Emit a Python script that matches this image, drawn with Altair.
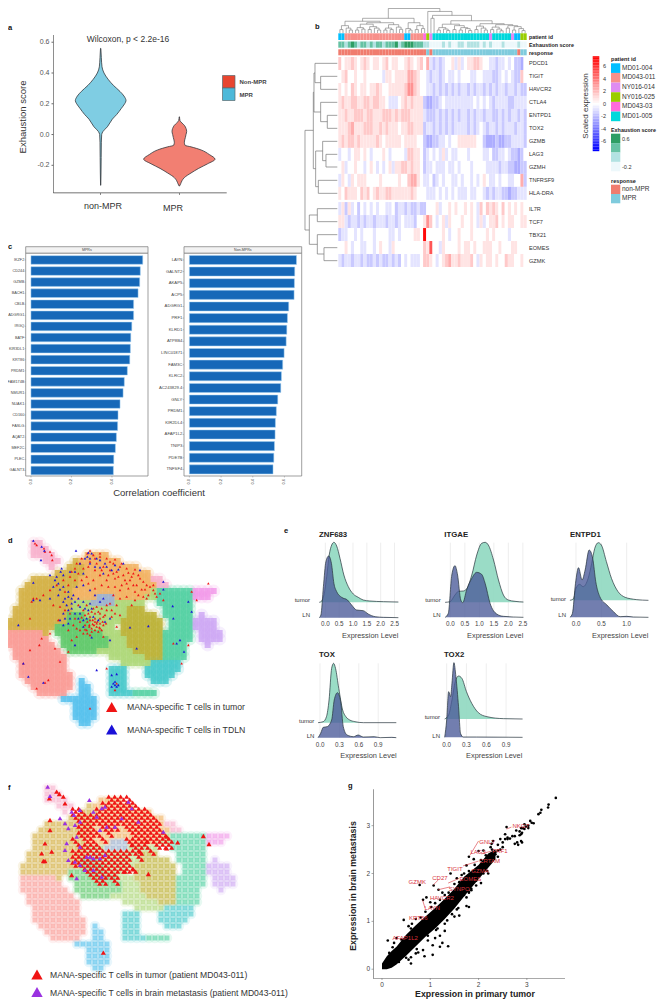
import altair as alt
import pandas as pd

FONT = "Liberation Sans"
ONE = pd.DataFrame({"a": [0]})
layers = []


def sc(domain, r0, r1):
    return alt.Scale(domain=list(domain), range=[r0 - 8, r1 - 8], nice=False, zero=False)


def txt(s, x, y, size=7, color="#222222", weight="normal", align="left", angle=0):
    layers.append(alt.Chart(ONE).mark_text(text=s, font=FONT, fontSize=size, color=color, fontWeight=weight,
                                           align=align, baseline="middle", angle=angle)
                  .encode(x=alt.value(x - 8), y=alt.value(y - 8)))


def swatch(x0, x1, y0, y1, fill, stroke=None):
    kw = {"stroke": stroke, "strokeWidth": 0.7} if stroke else {"strokeWidth": 0}
    layers.append(alt.Chart(ONE).mark_rect(fill=fill, **kw)
                  .encode(x=alt.value(x0 - 8), x2=alt.value(x1 - 8), y=alt.value(y0 - 8), y2=alt.value(y1 - 8)))


def vr(vals, xs, y0, y1, color="#444444", w=0.8):
    layers.append(alt.Chart(pd.DataFrame({"v": vals})).mark_rule(color=color, strokeWidth=w)
                  .encode(x=alt.X("v:Q", scale=xs, axis=None), y=alt.value(y0 - 8), y2=alt.value(y1 - 8)))


def hr(vals, ys, x0, x1, color="#444444", w=0.8):
    layers.append(alt.Chart(pd.DataFrame({"v": vals})).mark_rule(color=color, strokeWidth=w)
                  .encode(y=alt.Y("v:Q", scale=ys, axis=None), x=alt.value(x0 - 8), x2=alt.value(x1 - 8)))


def xlabels(vals, labs, xs, y, size=6, color="#444444", angle=0):
    d = pd.DataFrame({"v": vals, "t": labs})
    layers.append(alt.Chart(d).mark_text(font=FONT, fontSize=size, color=color, baseline="middle", align="center", angle=angle)
                  .encode(x=alt.X("v:Q", scale=xs, axis=None), y=alt.value(y - 8), text="t:N"))


def ylabels(vals, labs, ys, x, size=6, color="#444444"):
    d = pd.DataFrame({"v": vals, "t": labs})
    layers.append(alt.Chart(d).mark_text(font=FONT, fontSize=size, color=color, baseline="middle", align="right")
                  .encode(y=alt.Y("v:Q", scale=ys, axis=None), x=alt.value(x - 8), text="t:N"))


def segs(rows, xs, ys, color, w):
    d = pd.DataFrame(rows, columns=["x", "x2", "y", "y2"])
    layers.append(alt.Chart(d).mark_rule(color=color, strokeWidth=w)
                  .encode(x=alt.X("x:Q", scale=xs, axis=None), x2="x2:Q",
                          y=alt.Y("y:Q", scale=ys, axis=None), y2="y2:Q"))


# ---------------------------------------------------------------- a: violins
v1_y = [0.56, 0.5, 0.44, 0.40, 0.36, 0.32, 0.28, 0.25, 0.22, 0.2, 0.17, 0.13, 0.1, 0.05, 0.02, 0, -0.05, -0.15, -0.25, -0.33]
v1_w = [0.5, 2, 4, 10, 22, 38, 58, 70, 76, 72, 62, 48, 35, 20, 7, 3, 2, 1.5, 1, 0.3]
v2_y = [0.115, 0.09, 0.075, 0.06, 0.04, 0.02, 0, -0.02, -0.05, -0.07, -0.08, -0.1, -0.13, -0.16, -0.19, -0.22, -0.25, -0.28, -0.30, -0.32, -0.335]
v2_w = [0.5, 2, 8, 15, 20, 22, 20, 18, 15, 17, 35, 65, 90, 107, 85, 58, 35, 15, 8, 4, 0.5]
a_ys = sc([-0.38, 0.647], 193, 35)
for cx, vy, vw, fill in [(302, v1_y, v1_w, "#7FCDE3"), (538, v2_y, v2_w, "#F27F72")]:
    d = pd.DataFrame({"y": vy, "l": [cx - w for w in vw], "r": [cx + w for w in vw]})
    xs = sc([0, 900], 0, 300)
    layers.append(alt.Chart(d).mark_area(orient="horizontal", fill=fill, stroke="#33393d", strokeWidth=0.8, interpolate="monotone")
                  .encode(y=alt.Y("y:Q", scale=a_ys, axis=None), x=alt.X("l:Q", scale=xs, axis=None), x2="r:Q"))
a_ticks = [0.6, 0.4, 0.2, 0.0, -0.2]
hr(a_ticks, a_ys, 51.5, 53.3)
ylabels(a_ticks, ["0.6", "0.4", "0.2", "0.0", "-0.2"], a_ys, 49.5, size=7, color="#555555")
swatch(53.3, 53.9, 35, 193, "#444444")
swatch(53.3, 226.7, 192.6, 193.3, "#444444")
swatch(100.4, 101, 193, 195, "#444444")
swatch(179, 179.6, 193, 195, "#444444")
txt("Wilcoxon, p < 2.2e-16", 128, 39, 8.5, "#333333", align="center")
txt("Exhaustion score", 23, 117, 9.5, "#333333", align="center", angle=270)
txt("non-MPR", 103, 205.5, 9, "#333333", align="center")
txt("MPR", 173, 207.5, 9, "#333333", align="center")
swatch(222.5, 235, 75.5, 88, "#E8452F", "#5a6a70")
swatch(222.5, 235, 88, 100.5, "#4DB9D9", "#5a6a70")
txt("Non-MPR", 239.5, 82, 6, "#444444", "bold")
txt("MPR", 239.5, 95, 6, "#444444", "bold")
txt("a", 8, 28, 7.5, "#111111", "bold")

# ---------------------------------------------------------------- b: heatmap
genes = ["PDCD1", "TIGIT", "HAVCR2", "CTLA4", "ENTPD1", "TOX2", "GZMB", "LAG3", "GZMH", "TNFRSF9", "HLA-DRA",
         "IL7R", "TCF7", "TBX21", "EOMES", "GZMK"]
heat = [
    "756676567656656756655676567584343455646456677655443445453325",
    "567556556555554665666688765543443454454555445544433454543375",
    "656576566566765566666799765544343434343443434434343443443433",
    "676677667767766544456767666322334544444444454545434444334444",
    "667667776776667776767776666433343434343443434434433434344343",
    "666786667776676766656677666344343434344443434543443434443443",
    "676776766666765666665666655322334454556666665532223223344443",
    "455456656545556545555477665345454645445554555544533445433235",
    "564556554565454564667767665344544454454555455554444344332233",
    "465465666555565555565578865445345455445455454565445455445583",
    "657666576756766776666667655544454545454445445543434433233444",
    "463645354545455445344343343355564556565565654757676575656565",
    "664344343443444344345444355697545646555655654645667565665566",
    "344554545554555544545555665X55555654556555655556565555455555",
    "55654554455456554655555555576U554655556566565566655655566555",
    "434434434334343343435454445776545678667666754656656557665565",
]
lev = {str(i): (i - 5) * 0.8 for i in range(10)}
lev["X"] = 7.2
lev["U"] = 5.0
hx = sc([0, 60], 338.3, 526.7)
hy = sc([0, 16.17], 57, 267)
hm_rows = []
for i, row in enumerate(heat):
    y0 = i if i < 11 else i + 0.17
    for c, ch in enumerate(row):
        hm_rows.append({"c": c, "c2": c + 1, "y": y0, "y2": y0 + 1, "v": lev[ch]})
hcol = alt.Scale(domain=[-7.5, 0, 7.5], range=["#0000FF", "#FFFFFF", "#FF0000"], interpolate="rgb")
layers.append(alt.Chart(pd.DataFrame(hm_rows)).mark_rect(strokeWidth=0)
              .encode(x=alt.X("c:Q", scale=hx, axis=None), x2="c2:Q",
                      y=alt.Y("y:Q", scale=hy, axis=None), y2="y2:Q",
                      color=alt.Color("v:Q", scale=hcol, legend=None)))
d = pd.DataFrame({"v": [(i if i < 11 else i + 0.17) + 0.5 for i in range(16)], "t": genes})
layers.append(alt.Chart(d).mark_text(font=FONT, fontSize=5.6, color="#333333", baseline="middle", align="left")
              .encode(y=alt.Y("v:Q", scale=hy, axis=None), x=alt.value(529 - 8), text="t:N"))

patient_runs = [("MD01-004", 2), ("MD043-011", 19), ("MD01-004", 2), ("MD043-011", 4), ("MD043-03", 1), ("NY016-025", 1),
                ("NY016-014", 1), ("MD01-005", 18), ("NY016-014", 1), ("MD01-005", 6), ("NY016-014", 1),
                ("MD01-004", 2), ("NY016-025", 2)]
patient_names = ["MD01-004", "MD043-011", "NY016-014", "NY016-025", "MD043-03", "MD01-005"]
patient_cols = ["#00BFFF", "#F8908A", "#DF8CF2", "#9ACD00", "#FF6BDD", "#00D8DC"]
response_runs = [("non-MPR", 28), ("MPR", 1), ("non-MPR", 1), ("MPR", 27), ("non-MPR", 1), ("MPR", 2)]
exhaustion = "221232122121221222312333222110000101001101111010100010000100"
exh_cols = ["#EDF8FB", "#B2E2E2", "#66C2A4", "#2E9E64"]


def ann(cells, y0, y1, dom, rng):
    ys = sc([0, 1], y1, y0)
    d = pd.DataFrame([{"c": i, "c2": i + 1, "k": k, "y": 0, "y2": 1} for i, k in enumerate(cells)])
    layers.append(alt.Chart(d).mark_rect(strokeWidth=0)
                  .encode(x=alt.X("c:Q", scale=hx, axis=None), x2="c2:Q",
                          y=alt.Y("y:Q", scale=ys, axis=None), y2="y2:Q",
                          color=alt.Color("k:N", scale=alt.Scale(domain=dom, range=rng), legend=None)))


ann([k for k, n in patient_runs for _ in range(n)], 33.3, 40, patient_names, patient_cols)
ann(list(exhaustion), 41.5, 47.7, ["0", "1", "2", "3"], exh_cols)
ann([k for k, n in response_runs for _ in range(n)], 49.3, 55.3, ["non-MPR", "MPR"], ["#F07C6E", "#7FCBDD"])
txt("patient id", 529, 37, 5.4, "#222222", "bold")
txt("Exhaustion score", 529, 44.8, 5.4, "#222222", "bold")
txt("response", 529, 52.5, 5.4, "#222222", "bold")

# dendrograms
L = 0
left_tree = (60,
             (48, (30, (14, L, L), (20, L, (12, L, L))),
              (42, (36, (22, (12, L, L), (16, L, L)), (26, (14, L, L), (20, L, (12, L, L)))),
               (34, (20, (12, L, L), (14, L, L)), (24, L, (15, L, L))))),
             (42, (18, L, (12, L, L)), (30, (14, L, L), (18, L, L))))
right_tree = (88, L,
              (72, (60, L, L),
               (50,
                (36, (22, (12, L, L), (16, L, (10, L, L))), (30, (14, L, L), (22, (12, L, L), (18, L, (10, L, L))))),
                (38, (28, (14, L, L), (20, L, (12, L, L))),
                 (34, (24, (14, L, L), (16, L, (9, L, L))),
                  (30, (20, L, L), (26, (12, L, L), (18, L, (10, L, L)))))))))
top_tree = (100, left_tree, right_tree)
top_segs = []
counter = [0]


def walk(n):
    if n == 0:
        p = counter[0] + 0.5
        counter[0] += 1
        return p, 0
    h, a, b = n
    xa, ha = walk(a)
    xb, hb = walk(b)
    top_segs.append((xa, xa, ha, h))
    top_segs.append((xb, xb, hb, h))
    top_segs.append((xa, xb, h, h))
    return (xa + xb) / 2, h


walk(top_tree)
segs(top_segs, hx, sc([0, 100], 33, 8.5), "#777777", 0.6)

left_brackets = [(62, 199, 238, 112, 112), (45, 160, 218, 112, 62), (82, 316, 355, 112, 112), (62, 277, 335, 112, 82),
                 (42, 189, 306, 45, 62), (78, 433, 471, 112, 112), (68, 394, 452, 112, 78), (55, 511, 550, 112, 112),
                 (47, 423, 530, 68, 55), (40, 247, 476, 42, 47), (52, 596, 635, 112, 112), (72, 713, 752, 112, 112),
                 (52, 674, 732, 112, 72), (28, 615, 703, 52, 52), (15, 361, 660, 40, 28)]
ls = []
for x, ya, yb, xa, xb in left_brackets:
    ls += [(x, x, ya, yb), (xa, x, ya, ya), (xb, x, yb, yb)]
segs(ls, sc([0, 112], 300, 337.3), sc([141, 771], 57, 267), "#777777", 0.7)

# colour bar
bar_vals = [x * 0.25 for x in range(-30, 31)]
cb_y = sc([-7.55, 7.55], 150.7, 56.7)
layers.append(alt.Chart(pd.DataFrame({"v": bar_vals, "a": [v - 0.13 for v in bar_vals], "b": [v + 0.13 for v in bar_vals]}))
              .mark_rect(strokeWidth=0)
              .encode(y=alt.Y("a:Q", scale=cb_y, axis=None), y2="b:Q", x=alt.value(592.7 - 8), x2=alt.value(599.3 - 8),
                      color=alt.Color("v:Q", scale=hcol, legend=None)))
cb_ticks = [6, 4, 2, 0, -2, -4, -6]
d = pd.DataFrame({"v": cb_ticks, "t": [str(t) for t in cb_ticks]})
layers.append(alt.Chart(d).mark_text(font=FONT, fontSize=5.5, color="#333333", align="right", baseline="middle")
              .encode(y=alt.Y("v:Q", scale=cb_y, axis=None), x=alt.value(606 - 8), text="t:N"))
txt("Scaled expression", 586, 106, 8, "#333333", align="center", angle=270)
txt("patient id", 611, 59, 5.6, "#222222", "bold")
for i, (n, c) in enumerate(zip(patient_names, patient_cols)):
    swatch(611, 620.3, 63.3 + i * 9.65, 63.3 + (i + 1) * 9.65, c)
    txt(n, 622, 67.7 + i * 9.65, 6.5, "#333333")
txt("Exhaustion score", 611, 129.5, 5.4, "#222222", "bold")
for i, c in enumerate(reversed(exh_cols)):
    swatch(611, 620.3, 133.7 + i * 9.4, 133.7 + (i + 1) * 9.4, c)
txt("0.6", 622, 138.7, 5.5, "#333333")
txt("-0.2", 622, 166.7, 5.5, "#333333")
txt("response", 611, 180.7, 5.6, "#222222", "bold")
swatch(611, 620.3, 184.7, 194, "#F07C6E")
swatch(611, 620.3, 194, 203.3, "#7FCBDD")
txt("non-MPR", 622, 188.7, 6.5, "#333333")
txt("MPR", 622, 198.3, 6.5, "#333333")
txt("b", 315, 27, 7.5, "#111111", "bold")

# ---------------------------------------------------------------- c: bars
c1_names = ["IKZF2", "CD244", "GZMB", "BACH1", "CBLB", "ADGRG1", "IRGQ", "BATF", "KIR3DL1", "KRT86", "PRDM1", "FAM174B",
            "NMUR1", "NUAK1", "CD160", "FASLG", "AQAT2", "MEF2C", "PLEC", "GALNT3"]
c1_vals = [.552, .54, .537, .529, .507, .507, .498, .493, .491, .488, .476, .461, .455, .44, .43, .428, .422, .417, .409, .407]
c2_names = ["LAYN", "GALNT2", "AKAP5", "ACP5", "ADGRG1", "PRF1", "KLRD1", "ATP8B4", "LINC01871", "FAM3C", "KLRC2",
            "AC243829.4", "GNLY", "PRDM1", "KIR2DL4", "AFAP1L2", "TNIP3", "PDE7B", "TNFSF4"]
c2_vals = [.676, .665, .663, .661, .627, .619, .615, .611, .598, .589, .581, .577, .558, .549, .543, .541, .537, .533, .528]


def barpanel(names, vals, title, px0, px1, xdom, ydom, xticks, ticklab, labx, labsize):
    swatch(px0, px1, 246.7, 253.3, "#F2F2F2", "#777777")
    swatch(px0, px1, 253.3, 476, "#FFFFFF", "#777777")
    txt(title, (px0 + px1) / 2, 250, 3.6, "#444444", align="center")
    xs = sc(xdom, px0, px1)
    ys = sc(ydom, 253.3, 476)
    idx = list(range(len(names)))
    d = pd.DataFrame({"v0": 0.0, "v": vals, "a": [i - 0.39 for i in idx], "b": [i + 0.39 for i in idx]})
    layers.append(alt.Chart(d).mark_rect(fill="#1668B8", stroke="#A5D0F0", strokeWidth=0.5)
                  .encode(x=alt.X("v0:Q", scale=xs, axis=None), x2="v:Q", y=alt.Y("a:Q", scale=ys, axis=None), y2="b:Q"))
    ylabels(idx, names, ys, labx, size=labsize, color="#444444")
    hr(idx, ys, labx + 0.3, px0, "#777777", 0.4)
    vr(xticks, xs, 476, 477.5, "#777777", 0.4)
    xlabels(xticks, ticklab, xs, 481.7, size=4, angle=270)


barpanel(c1_names, c1_vals, "MPRs", 25.7, 148, [-.026, .578], [-.6, 19.5], [0, .2, .4], ["0.0", "0.2", "0.4"], 24.3, 3.8)
barpanel(c2_names, c2_vals, "Non-MPRs", 184, 301.7, [-.034, .709], [-.57, 18.57], [0, .2, .4, .6], ["0.0", "0.2", "0.4", "0.6"], 182.3, 4.2)
txt("Correlation coefficient", 159, 492.7, 9.5, "#333333", align="center")
txt("c", 8, 247, 7.5, "#111111", "bold")

# ---------------------------------------------------------------- d/f: UMAP occupancy grid
umap_rows = [
    "....RR",
    "....RRR",
    "....RRRR.....AAAA",
    "......RRR..OAAAAAAA",
    ".......R..OOOAAAAAAAAA",
    "........OOOOOAAAAAAAAAAA",
    "....OOOOOOOOAAAAAAAAAAAARR",
    "...OOOOOOOOOAAAAAAAAAAAAARR",
    "..OOOOOOOOOAAAAAAAAAAAAAWTTTTTTMMMM",
    "..OOOOOOOOOAAAAgggAAAAAWWTTTTTTMMM",
    "..OOOOOOOOOWWWggggWWWWW..TTTTTT",
    ".OOOOOOOOOOWWWWWWWWWLLL...TTTTT",
    ".OOOOOOOOOGGGWWWWWWWLLLLL.TTTTT.P",
    "OOOOOOOOOOGGGGWWWWWLLLLLLL.TTTTPPPP",
    "OOOOOOOOGGGGGGWWWW.LLLLLLL.TTTTPPPP",
    "SSSSSSO.GGGGGGGGWWWLLLLLLLTTTTT.PPPP",
    "SSSSSSS..GGGGGGGGWWWLLLLLLTTTTT.PPPP",
    "SSSSSSSS.GGGGGGGGWWWLLLLLLTTTT...P",
    ".SSSSSSSS.GGGGGWWWWWWLLLLLTTTT",
    ".SSSSSSSSS.......WWWWWWLLLTTTT",
    "..SSSSSSSS.........WWWWWCCCCC",
    "..SSSSSSSS.......CCC...CCCCCC",
    "..SSSSSSSSS......CCC...CCCCC",
    "...SSSSSSSS.B....CCC....CCC",
    "....SSSSSSS.BB...CCC",
    ".....SSSSS..BB...CCCCTTTT",
    ".........BBBBBB",
    "...........BBBB",
    "...........BBBB",
    "...........BBBB",
    "............BB",
]
umap_keys = list("RAOWTMgLGPSCB")
umap_cols = ["#F6A6C6", "#F0A84C", "#CFA62C", "#A4D267", "#3DCB97", "#F08CE6", "#8FA6C8", "#B3A81C", "#4CC257", "#C89CF2",
             "#F98F88", "#2FC2C4", "#3FB9EA"]
cells = []
for r, row in enumerate(umap_rows):
    for c, ch in enumerate(row):
        if ch != ".":
            cells.append({"x": 29 + 18 * c, "y": 39 + 18 * r, "k": ch})
cells = pd.DataFrame(cells)
umap_scale = alt.Scale(domain=umap_keys, range=umap_cols)


def umap(x0, y0, halo, halo_op, core, core_op):
    for shape, size, op in [("circle", halo, halo_op), ("square", core, core_op)]:
        layers.append(alt.Chart(cells).mark_point(shape=shape, filled=True, size=size, opacity=op, strokeWidth=0)
                      .encode(x=alt.X("x:Q", scale=sc([0, 660], x0, x0 + 220), axis=None),
                              y=alt.Y("y:Q", scale=sc([0, 600], y0, y0 + 200), axis=None),
                              color=alt.Color("k:N", scale=umap_scale, legend=None)))


umap(0, 530, 170, 0.16, 36, 0.72)
d_red = [(105, 40), (110, 45), (132, 55), (135, 65), (150, 65), (155, 75), (157, 90), (230, 100), (245, 85), (262, 70), (280, 75),
         (300, 80), (320, 85), (340, 100), (360, 110), (380, 115), (400, 130), (420, 145), (440, 165), (460, 180), (445, 195),
         (430, 200), (470, 200), (490, 210), (410, 165), (390, 150), (370, 135), (350, 125), (330, 120), (310, 110), (290, 100),
         (270, 95), (250, 115), (235, 130), (210, 140), (190, 150), (170, 165), (150, 180), (130, 195), (110, 205), (95, 215),
         (260, 140), (280, 150), (300, 135), (320, 150), (345, 145), (365, 165), (385, 175), (405, 185), (425, 178), (380, 200),
         (360, 205), (340, 195), (330, 220), (350, 225), (320, 240), (335, 260), (310, 260), (295, 245), (280, 235), (265, 250),
         (250, 240), (235, 225), (270, 270), (285, 275), (300, 280), (290, 290), (275, 295), (260, 300), (305, 300), (295, 305),
         (270, 315), (250, 310), (230, 320), (285, 265), (300, 265), (255, 285), (240, 275), (225, 265), (210, 250), (195, 240),
         (180, 230), (160, 225), (205, 300), (215, 330), (175, 270), (150, 310), (125, 325), (90, 360), (118, 345), (165, 355),
         (180, 395), (145, 450), (135, 458), (110, 475), (70, 400), (205, 365), (320, 415), (270, 535), (350, 460), (345, 480),
         (575, 185), (590, 210), (520, 340), (565, 345), (625, 160), (545, 400), (90, 265), (100, 205), (310, 320), (350, 290),
         (460, 165), (480, 190), (405, 210), (395, 225), (360, 255),
         (270, 62), (285, 85), (300, 70), (330, 95), (345, 88), (365, 100), (385, 128), (405, 118), (415, 135), (430, 155), (395, 140),
         (375, 150), (355, 140), (340, 130), (325, 135), (305, 120), (285, 120), (265, 110), (240, 100), (225, 115), (215, 125),
         (435, 178), (450, 170), (465, 190), (440, 205), (415, 195), (400, 165), (380, 160), (360, 180), (345, 170), (325, 170),
         (305, 165), (285, 175), (265, 160), (245, 150), (225, 150), (205, 165), (195, 185), (260, 225), (275, 245), (290, 230),
         (305, 235), (320, 225), (335, 240), (345, 250), (315, 255), (300, 250), (285, 250), (270, 260), (255, 255), (245, 262),
         (262, 275), (278, 282), (292, 275), (308, 275), (318, 280), (282, 285), (268, 290), (255, 298), (285, 300), (298, 292),
         (275, 305), (262, 310), (290, 280), (278, 270), (268, 285), (300, 295), (310, 285), (240, 300), (230, 295), (220, 285)]
d_blue = [(100, 32), (125, 50), (133, 62), (123, 90), (228, 62), (265, 68), (275, 70), (300, 90), (315, 100), (255, 85), (240, 100),
          (185, 115), (210, 125), (170, 140), (150, 135), (100, 158), (175, 160), (190, 170), (205, 185), (220, 195), (195, 205),
          (175, 195), (150, 205), (120, 210), (100, 210), (230, 170), (250, 165), (270, 180), (285, 195), (300, 215), (310, 205),
          (270, 220), (250, 215), (235, 205), (215, 220), (200, 225), (190, 250), (210, 265), (225, 250), (240, 250), (260, 265),
          (280, 260), (295, 270), (315, 275), (330, 265), (250, 290), (190, 285), (225, 345), (275, 322), (330, 330), (390, 292),
          (445, 288), (410, 355), (55, 285), (85, 440), (70, 400), (130, 458), (290, 420), (335, 435), (350, 432), (340, 460),
          (345, 465), (350, 470), (335, 470), (355, 465), (345, 455), (490, 155), (490, 178), (565, 215), (575, 245), (520, 265),
          (518, 228), (540, 330), (530, 340), (552, 365), (335, 120), (345, 105), (310, 130), (370, 100), (420, 120),
          (182, 125), (190, 135), (165, 150), (160, 170), (180, 178), (205, 200), (215, 205), (190, 215), (225, 215), (240, 230),
          (255, 235), (265, 240), (275, 235), (205, 240), (215, 235), (195, 265), (180, 270), (205, 280), (235, 265), (250, 270),
          (270, 100), (285, 110), (300, 112), (320, 110), (355, 118), (250, 130), (225, 125), (290, 85), (262, 80), (270, 85)]


def triangles(pts, color, size, xs, ys):
    d = pd.DataFrame(pts, columns=["x", "y"])
    layers.append(alt.Chart(d).mark_point(shape="triangle-up", filled=True, size=size, color=color, opacity=1, strokeWidth=0)
                  .encode(x=alt.X("x:Q", scale=xs, axis=None), y=alt.Y("y:Q", scale=ys, axis=None)))


dxs, dys = sc([0, 660], 0, 220), sc([0, 600], 530, 730)
triangles(d_red, "#F01414", 7, dxs, dys)
triangles(d_blue, "#1A10D8", 7, dxs, dys)
txt("MANA-specific T cells in tumor", 127, 706.7, 8.7, "#333333")
txt("MANA-specific T cells in TDLN", 127, 730, 8.7, "#333333")
txt("d", 8, 541, 7.5, "#111111", "bold")
legend_xs, legend_ys = sc([0, 665], 0, 665), sc([0, 1007], 0, 1007)
triangles([(111.7, 707)], "#F01414", 130, legend_xs, legend_ys)
triangles([(111.7, 729.5)], "#1A10D8", 130, legend_xs, legend_ys)

umap(13.3, 775, 110, 0.12, 24, 0.5)
f_mask = [
    ".......XXXX",
    "......XXXXXX",
    ".XX..XXXXXXXXX",
    ".XXXXXXXXXXXXXX",
    "..XXXXXXXXXXXXXX",
    "..XXX.XXX.XXXXXX",
    "..XXXX.X...XXXXXX",
    ".X.XX.X...XXXXXXXX",
    "..XXXX.....XXX.XXX",
    ".XXXXXXXXXXXX.X",
    ".XXXXXXXXXX.X",
    ".XXXXXXXXXX",
    "...XXXXXXXXX",
    "....XXXXX",
    ".....XX.X",
]
f_red = [(x * 18 + 200 + o, 50 + r * 18 + o) for o in (0, 9) for r, row in enumerate(f_mask) for x, ch in enumerate(row) if ch == "X"]
f_red_extra = [(148, 55), (170, 35), (178, 42), (190, 50), (195, 70), (150, 120), (150, 150), (135, 190), (125, 220), (155, 215),
               (130, 243), (135, 243), (215, 285), (445, 282), (610, 168), (627, 192), (310, 518), (533, 187), (500, 205),
               (375, 275), (400, 268), (420, 215), (395, 195), (440, 185), (500, 170)]
f_purple = [(143, 20), (150, 48), (268, 60), (215, 95), (222, 105), (240, 90), (280, 95), (305, 85), (395, 85), (385, 65), (180, 115),
            (195, 130), (205, 145), (240, 125), (225, 135), (415, 125), (490, 155), (230, 170), (200, 190), (240, 200), (195, 210),
            (320, 140), (300, 150), (205, 240), (225, 245), (240, 255), (280, 235), (270, 230), (300, 235), (315, 225), (255, 270),
            (280, 270), (230, 295), (305, 290), (260, 230), (345, 140), (365, 115), (290, 110), (315, 80)]
fxs, fys = sc([0, 660], 0, 220), sc([0, 600], 780, 980)
triangles(f_red + f_red_extra, "#F01414", 26, fxs, fys)
triangles(f_purple, "#9A32E0", 22, fxs, fys)
triangles([(37, 974.5)], "#F01414", 130, legend_xs, legend_ys)
triangles([(37, 992)], "#9A32E0", 130, legend_xs, legend_ys)
txt("MANA-specific T cells in tumor (patient MD043-011)", 50, 974.5, 8.6, "#333333")
txt("MANA-specific T cells in brain metastasis (patient MD043-011)", 50, 993, 8.6, "#333333")
txt("f", 8, 788, 7.5, "#111111", "bold")

# ---------------------------------------------------------------- e: ridges
ridges = {
    "ZNF683": dict(xl=148, xr=385, x0=166, k=83, T=247, LN=293, top=68, ticks=[0, .5, 1, 1.5, 2, 2.5],
                   tx=[-.22, -.13, -.05, .05, .14, .23, .31, .41, .53, .67, .83, 1.01, 1.19, 1.37, 1.61, 2.1, 2.64],
                   th=[0, 4, 22, 77, 142, 172, 180, 169, 132, 82, 47, 25, 15, 7, 4, 2, 1],
                   lx=[-.22, -.16, -.07, .02, .12, .22, .31, .41, .59, .8, .95, 1.13, 1.37, 1.55, 1.8, 2.1, 2.64],
                   lh=[0, 8, 93, 168, 185, 163, 103, 78, 61, 53, 38, 23, 21, 11, 3, 1, 0],
                   title_x=147, title_y=45, lab_x=120, lab_t=240, lab_l=286, tick_y=313, exp_y=349),
    "ITGAE": dict(xl=525, xr=760, x0=541, k=87, T=247, LN=292, top=68, ticks=[0, .5, 1, 1.5, 2, 2.5],
                  tx=[-.18, -.01, .16, .28, .45, .56, .74, .91, 1.08, 1.2, 1.31, 1.49, 1.66, 1.83, 2.0, 2.23, 2.52],
                  th=[0, 2, 22, 33, 34, 40, 82, 142, 177, 180, 172, 127, 67, 22, 7, 3, 1],
                  lx=[-.18, -.07, .05, .16, .25, .36, .43, .56, .74, .91, 1.08, 1.2, 1.37, 1.6, 1.83, 2.52],
                  lh=[0, 12, 127, 155, 127, 52, 44, 82, 117, 135, 129, 102, 42, 10, 3, 0],
                  title_x=523, title_y=45, lab_x=512, lab_t=241, lab_l=286, tick_y=313, exp_y=349),
    "ENTPD1": dict(xl=900, xr=1135, x0=918, k=152, T=241, LN=292, top=68, ticks=[0, .5, 1],
                   tx=[-.12, -.05, 0, .07, .14, .24, .31, .37, .44, .5, .6, .70, .83, .97, 1.07, 1.2, 1.43],
                   th=[0, 5, 36, 48, 41, 66, 111, 156, 173, 166, 116, 66, 26, 9, 5, 2, 0],
                   lx=[-.12, -.07, -.01, .05, .12, .18, .26, .33, .39, .47, .61, .74, .87, 1.0, 1.13, 1.43],
                   lh=[0, 12, 102, 149, 112, 142, 202, 177, 107, 62, 37, 17, 2, 3, 1, 0],
                   title_x=900, title_y=45, lab_x=888, lab_t=236, lab_l=286, tick_y=313, exp_y=349),
    "TOX": dict(xl=145, xr=380, x0=150, k=194, T=608, LN=653, top=430, ticks=[0, .3, .6, .9],
                tx=[-.03, .05, .1, .14, .18, .21, .24, .29, .35, .4, .46, .54, .67, 1.18],
                th=[0, 3, 18, 68, 163, 178, 163, 103, 38, 18, 8, 3, 0, 0],
                lx=[-.03, .01, .05, .11, .18, .22, .27, .32, .36, .42, .52, .59, .67, .84, .93, 1.11, 1.18],
                lh=[0, 13, 31, 33, 53, 113, 135, 108, 33, 8, 3, 8, 2, 3, 0, 1, 0],
                title_x=147, title_y=405, lab_x=133, lab_t=602, lab_l=647, tick_y=674, exp_y=708),
    "TOX2": dict(xl=525, xr=757, x0=530, k=198, T=597, LN=652, top=430, ticks=[0, .3, .6, .9],
                 tx=[-.03, .03, .08, .13, .18, .23, .3, .38, .48, .61, .86, 1.15],
                 th=[0, 12, 57, 112, 129, 122, 82, 47, 19, 7, 1, 0],
                 lx=[-.03, 0, .03, .06, .08, .11, .14, .18, .21, .25, .45, 1.15],
                 lh=[0, 52, 137, 122, 162, 224, 182, 92, 12, 1, 1, 0],
                 title_x=522, title_y=405, lab_x=510, lab_t=590, lab_l=647, tick_y=674, exp_y=708),
}


def rx(z):
    return min(270 + z / 3, 654)


def ry(z):
    return 520 + z / 3


for name, p in ridges.items():
    xs = sc([(p["xl"] - p["x0"]) / p["k"], (p["xr"] - p["x0"]) / p["k"]], rx(p["xl"]), rx(p["xr"]))
    ys = sc([0, 240], ry(p["LN"]), ry(p["LN"]) - 80)
    vr(p["ticks"], xs, ry(p["top"]), ry(p["LN"]), "#E6E6E6", 0.7)
    off = p["LN"] - p["T"]
    for cx, ch, o, fill, op in [(p["tx"], p["th"], off, "#8FD8C0", 0.9), (p["lx"], p["lh"], 0, "#4A5A98", 0.78)]:
        d = pd.DataFrame({"x": cx, "y": [h + o for h in ch], "b": o})
        layers.append(alt.Chart(d).mark_area(fill=fill, opacity=op, interpolate="monotone")
                      .encode(x=alt.X("x:Q", scale=xs, axis=None), y=alt.Y("y:Q", scale=ys, axis=None), y2="b:Q"))
        layers.append(alt.Chart(d).mark_line(color="#27343c", strokeWidth=0.7, interpolate="monotone")
                      .encode(x=alt.X("x:Q", scale=xs, axis=None), y=alt.Y("y:Q", scale=ys, axis=None)))
    xlabels(p["ticks"], [f"{t:.1f}" for t in p["ticks"]], xs, ry(p["tick_y"]), size=6.3, color="#444444")
    txt("tumor", rx(p["lab_x"]), ry(p["lab_t"]), 6, "#333333", align="right")
    txt("LN", rx(p["lab_x"]), ry(p["lab_l"]), 6, "#333333", align="right")
    txt("Expression Level", rx(p["xr"]), ry(p["exp_y"]), 7.4, "#444444", align="right")
    txt(name, rx(p["title_x"]), ry(p["title_y"]), 7.8, "#222222", "bold")
txt("e", 284, 531, 7.5, "#111111", "bold")

# ---------------------------------------------------------------- g: scatter
gx = sc([-0.18, 3.79], 373.3, 565)
gy = sc([-0.19, 3.76], 978.3, 789.3)
env_x = [0, .1, .2, .3, .5, .7, .9, 1.1, 1.3, 1.5, 1.7, 2.0, 2.2, 2.35]
env_lo = [0, 0, .03, .1, .28, .48, .68, .85, 1.05, 1.27, 1.52, 1.88, 2.12, 2.3]
env_hi = [.12, .27, .38, .47, .72, .92, 1.1, 1.28, 1.47, 1.68, 1.93, 2.18, 2.42, 2.5]
layers.append(alt.Chart(pd.DataFrame({"x": env_x, "lo": env_lo, "hi": env_hi})).mark_area(color="#000000")
              .encode(x=alt.X("x:Q", scale=gx, axis=None), y=alt.Y("lo:Q", scale=gy, axis=None), y2="hi:Q"))
g_pts = [(3.6, 3.58), (3.45, 3.44), (3.44, 3.38), (3.3, 3.33), (3.28, 3.27), (3.24, 3.24), (3.14, 3.05), (3.1, 3.06), (3.07, 3.1), (3.03, 3.0),
         (2.98, 2.98), (2.95, 3.03), (2.92, 2.95), (2.88, 2.95), (2.9, 2.85), (2.85, 2.88), (2.8, 2.65), (0.12, 0.6), (0.45, 1.03), (0.78, 1.76),
         (0.85, 1.45), (0.92, 1.5), (1.07, 1.75), (1.17, 1.66), (1.42, 2.0), (1.8, 2.35), (1.9, 2.3), (1.75, 2.17), (1.55, 1.9), (1.3, 1.55),
         (1.0, 1.4), (0.7, 1.05), (0.55, 0.9), (0.3, 0.65), (0.25, 0.55), (1.65, 1.97), (1.25, 1.6), (2.0, 2.47), (2.1, 2.48), (2.25, 2.55),
         (2.45, 2.72), (2.55, 2.82), (2.58, 2.97), (2.3, 2.68), (2.27, 2.62), (2.6, 2.72), (2.4, 2.6), (2.5, 2.65), (2.55, 2.72), (2.6, 2.75),
         (2.65, 2.73), (2.7, 2.78), (2.75, 2.78), (2.85, 2.8), (2.9, 2.65), (2.88, 2.82), (2.75, 2.62), (2.82, 2.6), (2.88, 2.68), (2.78, 2.9),
         (2.9, 2.95), (2.95, 2.93), (3.03, 2.95), (2.45, 2.5), (2.35, 2.4), (2.3, 2.35), (2.25, 2.3), (2.1, 2.0), (1.95, 1.75), (2.05, 1.8),
         (1.85, 1.68), (1.75, 1.5), (1.85, 1.65), (1.7, 1.55), (1.8, 1.6), (1.55, 1.25), (1.75, 1.32), (1.8, 1.3), (1.45, 1.15), (1.5, 1.1),
         (1.6, 1.12), (1.3, 0.95), (1.3, 0.8), (1.15, 0.85), (1.2, 0.7), (1.25, 0.55), (1.1, 0.65), (1.2, 0.47), (1.37, 0.48), (0.85, 0.4),
         (1.05, 0.3), (0.88, 0.27), (0.7, 0.33), (0.6, 0.25), (0.55, 0.2), (0.6, 0.12), (0.75, 0.35), (0.95, 0.6), (1.05, 0.5), (2.2, 2.0),
         (2.05, 2.1), (2.28, 2.5), (2.35, 2.45), (2.4, 2.35), (2.5, 2.55),
         (0.4, 0.62), (0.6, 0.85), (0.8, 1.08), (1.02, 1.3), (1.2, 1.45), (1.38, 1.6), (1.6, 1.82), (1.8, 2.05), (2.05, 2.28), (2.15, 2.38),
         (0.35, 0.15), (0.5, 0.24), (0.72, 0.42), (0.95, 0.7), (1.12, 0.82), (1.35, 1.02), (1.58, 1.28), (1.8, 1.62), (1.95, 1.85), (2.18, 2.05),
         (0.15, 0.34), (0.22, 0.46), (0.62, 0.95), (0.9, 1.2), (1.1, 1.38), (1.5, 1.78), (1.7, 2.0), (1.92, 2.18), (2.3, 2.3), (2.4, 2.48)]
d = pd.DataFrame(g_pts, columns=["x", "y"])
layers.append(alt.Chart(d).mark_circle(color="#000000", size=7, opacity=1)
              .encode(x=alt.X("x:Q", scale=gx, axis=None), y=alt.Y("y:Q", scale=gy, axis=None)))
g_links = [(2.58, 2.68, 2.93, 2.97), (1.82, 2.0, 2.38, 2.68), (2.06, 2.27, 2.41, 2.47), (1.68, 2.0, 2.16, 2.26),
           (1.06, 1.17, 1.76, 1.87), (1.16, 1.41, 1.66, 1.72), (1.37, 1.6, 1.8, 1.9), (0.84, 0.89, 1.45, 1.28)]
segs(g_links, gx, gy, "#D8323C", 0.6)
g_labels = ["NKG7", "GNLY", "LAG3", "PRF1", "CRTAM", "TIGIT", "GZMA", "CD27", "EOMES", "GZMK", "SYNPO", "HAVCR2", "LAYN", "KRT86", "AFAP1L2"]
g_lab_x = [2.87, 2.18, 1.99, 2.44, 2.23, 1.51, 2.03, 1.2, 1.83, 0.73, 1.6, 1.24, 1.04, 0.75, 0.48]
g_lab_y = [2.99, 2.65, 2.46, 2.47, 2.27, 2.1, 2.06, 1.91, 1.88, 1.83, 1.68, 1.48, 1.28, 1.07, 0.65]
d = pd.DataFrame({"x": g_lab_x, "y": g_lab_y, "t": g_labels})
layers.append(alt.Chart(d).mark_text(font=FONT, fontSize=6, color="#D8323C", align="center", baseline="middle")
              .encode(x=alt.X("x:Q", scale=gx, axis=None), y=alt.Y("y:Q", scale=gy, axis=None), text="t:N"))
g_ticks = [0, 1, 2, 3]
swatch(373, 373.6, 789.3, 978.3, "#555555")
swatch(373, 565, 978, 978.6, "#555555")
vr(g_ticks, gx, 978.3, 980, "#555555", 0.5)
hr(g_ticks, gy, 371.5, 373.3, "#555555", 0.5)
xlabels(g_ticks, [str(t) for t in g_ticks], gx, 984.5, size=6.5)
ylabels(g_ticks, [str(t) for t in g_ticks], gy, 370, size=6.5)
txt("Expression in primary tumor", 475, 994, 8.8, "#222222", "bold", align="center")
txt("Expression in brain metastasis", 353, 886, 8.8, "#222222", "bold", align="center", angle=270)
txt("g", 348, 786, 7.5, "#111111", "bold")

chart = (alt.layer(*layers)
         .resolve_scale(x="independent", y="independent", color="independent")
         .properties(width=649, height=991, padding=0, autosize="none", background="#FFFFFF")
         .configure_view(strokeWidth=0))
chart.save("out.html", embed_options={"renderer": "svg", "actions": False})
